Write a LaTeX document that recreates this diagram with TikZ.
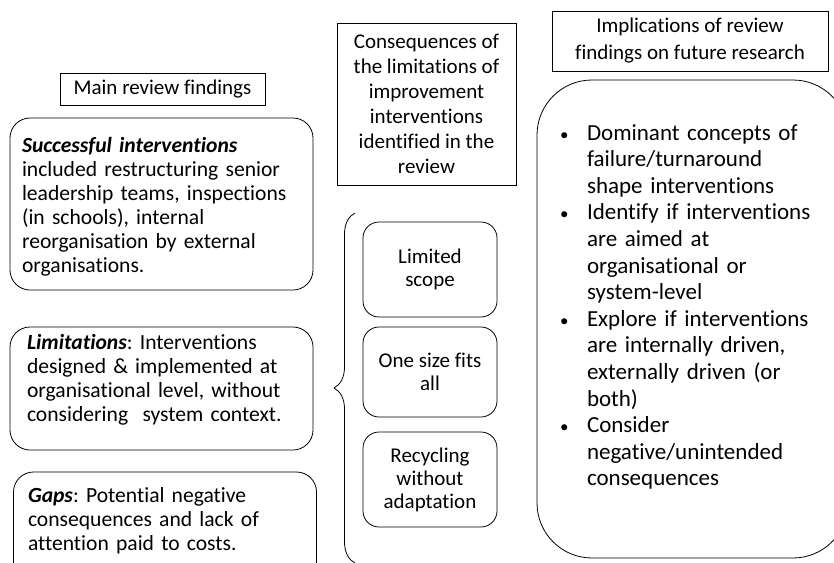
\documentclass[tikz,border=0pt]{standalone}
\usepackage{fontspec}
\setmainfont{Carlito}[Ligatures={NoCommon}]
\usetikzlibrary{decorations.pathreplacing}

\newcommand{\bul}{\makebox[27pt][l]{\fontsize{17}{17}\selectfont\textbullet}}
\newcommand{\bhang}{\hspace*{27pt}}
\frenchspacing

\begin{document}
\begin{tikzpicture}[
    x=1pt, y=-1pt,
    every node/.style={inner sep=0pt, outer sep=0pt},
    hdr/.style={draw, rectangle, align=center, line width=0.8pt, font=\fontsize{21}{25}\selectfont},
    finding/.style={draw, rectangle, rounded corners=20pt, minimum width=303pt, line width=0.8pt},
    findtxt/.style={anchor=base west, align=left, text width=290pt, font=\fontsize{21.6}{24}\selectfont},
    conseq/.style={draw, rectangle, rounded corners=16pt, minimum width=134pt, align=center, line width=0.8pt, font=\fontsize{21}{23}\selectfont}
]
\useasboundingbox (0,0) rectangle (834,562);

% column headers
\node[hdr, minimum width=205pt, minimum height=32pt] (mainhd) at (162.5,89) {Main review findings};
\node[hdr, minimum width=179pt, minimum height=162pt] (conshd) at (426.5,104) {Consequences of\\the limitations of\\improvement\\interventions\\identified in the\\review};
\node[hdr, minimum width=276pt, minimum height=60pt, font=\fontsize{21}{27}\selectfont] (implhd) at (690,41) {Implications of review\\findings on future research};

% main findings
\node[finding, minimum height=172pt] (succ) at (161.5,204) {};
\node[finding, minimum height=123pt] (lim)  at (161.5,388.5) {};
\node[finding, minimum height=128pt] (gaps) at (165,536) {};
\node[findtxt] (succtxt) at (22,152) {\textbf{\textit{Successful interventions}}\\included restructuring senior\\leadership teams, inspections\\(in schools), internal\\reorganisation by external\\organisations.};
\node[findtxt] (limtxt) at (27,349) {\textbf{\textit{Limitations}}: Interventions\\designed \& implemented at\\organisational level, without\\considering\ \ system context.};
\node[findtxt] (gapstxt) at (28,502) {\textbf{\textit{Gaps}}: Potential negative\\consequences and lack of\\attention paid to costs.};

% consequences
\node[conseq, minimum height=95pt] (scope)  at (430,269.5) {Limited\\scope};
\node[conseq, minimum height=90pt] (onesz)  at (430,372) {One size fits\\all};
\node[conseq, minimum height=95pt] (recyc)  at (430,479.5) {Recycling\\without\\adaptation};
\coordinate (bracetop) at (355,213);
\coordinate (bracebot) at (355,563);
\draw[line width=0.8pt, decorate, decoration={brace, amplitude=21pt}] (bracebot) -- (bracetop);

% implications
\node[draw, rectangle, rounded corners=55pt, minimum width=311pt, minimum height=478pt, line width=0.8pt] (impl) at (692.5,319) {};
\node[anchor=base west, align=left, text width=270pt, font=\fontsize{23}{26.6}\selectfont] (impltxt) at (560,140) {\bul Dominant concepts of\\\bhang failure/turnaround\\\bhang shape interventions\\\bul Identify if interventions\\\bhang are aimed at\\\bhang organisational or\\\bhang system-level\\\bul Explore if interventions\\\bhang are internally driven,\\\bhang externally driven (or\\\bhang both)\\\bul Consider\\\bhang negative/unintended\\\bhang consequences};
\end{tikzpicture}
\end{document}
